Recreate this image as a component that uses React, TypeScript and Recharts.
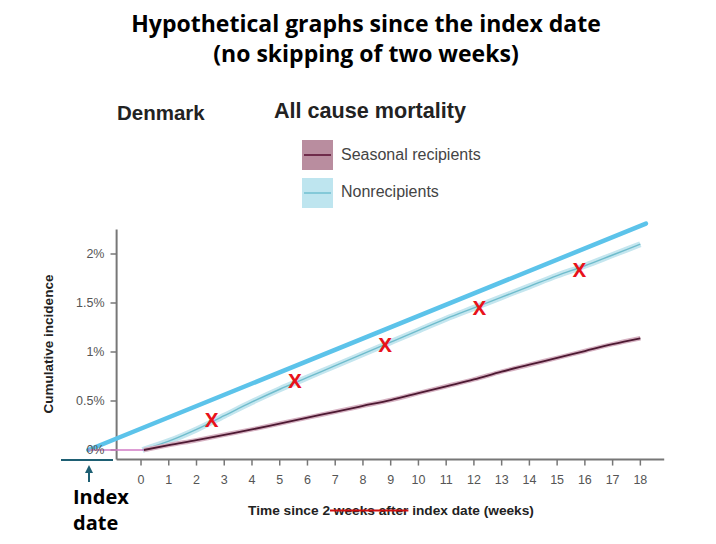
import { ComposedChart, Line, Scatter, XAxis, YAxis, ReferenceLine } from "recharts";

// weeks since index date (index date itself sits about two weeks before week 0)
const WEEK_TICKS = [0, 1, 2, 3, 4, 5, 6, 7, 8, 9, 10, 11, 12, 13, 14, 15, 16, 17, 18];
const PCT_TICKS = [0, 0.5, 1, 1.5, 2];
const PCT_LABELS = ["0%", "0.5%", "1%", "1.5%", "2%"];

const SEASONAL_WEEKS = [0.1, 1, 2, 3, 4, 5, 6, 7, 8, 9, 10, 11, 12, 13, 14, 15, 16, 17, 18];
const SEASONAL_VALUES = [0, 0.05, 0.1, 0.155, 0.21, 0.27, 0.33, 0.39, 0.45, 0.51, 0.58, 0.65, 0.72, 0.8, 0.87, 0.94, 1.01, 1.08, 1.14];

const NONRECIP_WEEKS = [0.05, 1, 2, 3, 4, 5, 6, 7, 8, 9, 10, 11, 12, 13, 14, 15, 16, 17, 18];
const NONRECIP_VALUES = [0, 0.09, 0.21, 0.35, 0.49, 0.62, 0.74, 0.86, 0.98, 1.1, 1.22, 1.34, 1.45, 1.56, 1.67, 1.78, 1.88, 1.99, 2.1];

const PRE_INDEX_WEEKS = [-1.9, 0.1];
const PRE_INDEX_VALUES = [0, 0];

const HYPOTHETICAL_WEEKS = [-1.9, 18.2];
const HYPOTHETICAL_VALUES = [0, 2.31];

const MARK_WEEKS = [2.55, 5.55, 8.8, 12.2, 15.8];
const MARK_VALUES = [0.31, 0.71, 1.07, 1.45, 1.84];

const zip = (weeks: number[], values: number[]) => weeks.map((week, i) => ({ week, value: values[i] }));

const seasonal = zip(SEASONAL_WEEKS, SEASONAL_VALUES);
const nonrecipients = zip(NONRECIP_WEEKS, NONRECIP_VALUES);
const preIndex = zip(PRE_INDEX_WEEKS, PRE_INDEX_VALUES);
const hypothetical = zip(HYPOTHETICAL_WEEKS, HYPOTHETICAL_VALUES);
const marks = zip(MARK_WEEKS, MARK_VALUES);

const X_DOMAIN: [number, number] = [-3, 19];
const Y_DOMAIN: [number, number] = [-0.0975, 2.5];
const AXIS_X = -0.88; // where the y axis line sits
const AXIS_X_END = 18.86;
const AXIS_Y_TOP = 2.25;
const TICK_X = -1.1;

const AXIS_COLOR = "#777";
const SANS = "'Liberation Sans', Arial, sans-serif";
const TITLE_FONT = "'Open Sans', sans-serif";

const XMark = (props: any) => (
  <text
    x={props.cx}
    y={props.cy}
    dy="0.36em"
    textAnchor="middle"
    fontFamily={TITLE_FONT}
    fontWeight={700}
    fontSize={20}
    fill="#e8121a"
  >
    X
  </text>
);

export default function App() {
  return (
    <div style={{ position: "absolute", left: 0, top: 0, width: 716, height: 544, background: "#fff", overflow: "hidden" }}>
      <div
        style={{
          position: "absolute",
          left: 0,
          top: 8,
          width: 732,
          textAlign: "center",
          fontFamily: TITLE_FONT,
          fontWeight: 700,
          fontSize: 23,
          lineHeight: "30px",
          color: "#000",
        }}
      >
        Hypothetical graphs since the index date
        <br />
        (no skipping of two weeks)
      </div>

      <div style={{ position: "absolute", left: 117, top: 101, fontFamily: SANS, fontWeight: 700, fontSize: 20.5, color: "#222" }}>
        Denmark
      </div>
      <div style={{ position: "absolute", left: 274, top: 98, fontFamily: SANS, fontWeight: 700, fontSize: 21.6, color: "#222" }}>
        All cause mortality
      </div>

      {/* legend */}
      <div style={{ position: "absolute", left: 302, top: 140, width: 31, height: 30, background: "#b98d9f" }}>
        <div style={{ position: "absolute", left: 2, right: 2, top: 14, height: 2, background: "#6f2c4b" }} />
      </div>
      <div style={{ position: "absolute", left: 341, top: 146, fontFamily: SANS, fontSize: 16, color: "#444" }}>
        Seasonal recipients
      </div>
      <div style={{ position: "absolute", left: 302, top: 178, width: 31, height: 30, background: "#bee5ef" }}>
        <div style={{ position: "absolute", left: 2, right: 2, top: 14, height: 1.5, background: "#84c9d8" }} />
      </div>
      <div style={{ position: "absolute", left: 341, top: 183, fontFamily: SANS, fontSize: 16, color: "#444" }}>
        Nonrecipients
      </div>

      <ComposedChart
        width={716}
        height={544}
        margin={{ top: 205, right: 47.9, bottom: 54.45, left: 57.8 }}
        style={{ position: "absolute", left: 0, top: 0 }}
      >
        <XAxis
          type="number"
          dataKey="week"
          domain={X_DOMAIN}
          ticks={WEEK_TICKS}
          interval={0}
          height={30}
          axisLine={false}
          tickLine={{ stroke: AXIS_COLOR, strokeWidth: 1.5 }}
          tickSize={6}
          tickMargin={10}
          tick={{ fontSize: 12.5, fill: "#555", fontFamily: SANS }}
        />
        <YAxis type="number" dataKey="value" domain={Y_DOMAIN} hide />

        <ReferenceLine
          segment={[{ x: AXIS_X, y: Y_DOMAIN[0] }, { x: AXIS_X_END, y: Y_DOMAIN[0] }]}
          stroke={AXIS_COLOR}
          strokeWidth={2}
          ifOverflow="visible"
        />
        <ReferenceLine
          segment={[{ x: AXIS_X, y: Y_DOMAIN[0] }, { x: AXIS_X, y: AXIS_Y_TOP }]}
          stroke={AXIS_COLOR}
          strokeWidth={2}
          ifOverflow="visible"
        />
        {PCT_TICKS.map((t, i) => (
          <ReferenceLine
            key={t}
            segment={[{ x: TICK_X, y: t }, { x: AXIS_X, y: t }]}
            stroke={AXIS_COLOR}
            strokeWidth={1.5}
            ifOverflow="visible"
            label={{ value: PCT_LABELS[i], position: "left", offset: 6, fontSize: 12.5, fill: "#555", fontFamily: SANS }}
          />
        ))}

        <Line data={nonrecipients} type="monotone" dataKey="value" stroke="#c4e6ef" strokeWidth={6} dot={false} activeDot={false} isAnimationActive={false} />
        <Line data={nonrecipients} type="monotone" dataKey="value" stroke="#6fbccc" strokeWidth={1.4} dot={false} activeDot={false} isAnimationActive={false} />
        <Line data={seasonal} type="monotone" dataKey="value" stroke="#d6b2c2" strokeWidth={4.5} dot={false} activeDot={false} isAnimationActive={false} />
        <Line data={seasonal} type="monotone" dataKey="value" stroke="#4d1932" strokeWidth={1.8} dot={false} activeDot={false} isAnimationActive={false} />
        <Line data={hypothetical} dataKey="value" stroke="#5cc3ea" strokeWidth={4.5} strokeLinecap="round" dot={false} activeDot={false} isAnimationActive={false} />
        <Line data={preIndex} dataKey="value" stroke="#d27bc6" strokeWidth={1.6} dot={false} activeDot={false} isAnimationActive={false} />
        <Scatter data={marks} dataKey="value" shape={XMark} isAnimationActive={false} />
      </ComposedChart>

      {/* y axis title */}
      <div
        style={{
          position: "absolute",
          left: 48,
          top: 344,
          transform: "translate(-50%, -50%) rotate(-90deg)",
          whiteSpace: "nowrap",
          fontFamily: SANS,
          fontWeight: 700,
          fontSize: 13.5,
          color: "#222",
        }}
      >
        Cumulative incidence
      </div>

      {/* x axis title with the struck-out words */}
      <div
        style={{
          position: "absolute",
          left: 391,
          top: 510,
          transform: "translate(-50%, -50%)",
          whiteSpace: "nowrap",
          fontFamily: SANS,
          fontWeight: 700,
          fontSize: 13.7,
          color: "#222",
        }}
      >
        Time since 2
        <span style={{ textDecoration: "line-through", textDecorationColor: "#d01010", textDecorationThickness: 2 }}>
          {" weeks after"}
        </span>{" "}
        index date (weeks)
      </div>

      {/* index date marker */}
      <svg width={716} height={544} style={{ position: "absolute", left: 0, top: 0, pointerEvents: "none" }}>
        <line x1={61} y1={460} x2={113} y2={460} stroke="#1e5f73" strokeWidth={2} />
        <line x1={89} y1={470} x2={89} y2={482} stroke="#1e5f73" strokeWidth={2} />
        <polygon points="89,465 85,473 93,473" fill="#1e5f73" />
      </svg>
      <div
        style={{
          position: "absolute",
          left: 73,
          top: 484,
          fontFamily: TITLE_FONT,
          fontWeight: 700,
          fontSize: 20,
          lineHeight: "26px",
          color: "#000",
        }}
      >
        Index
        <br />
        date
      </div>
    </div>
  );
}
